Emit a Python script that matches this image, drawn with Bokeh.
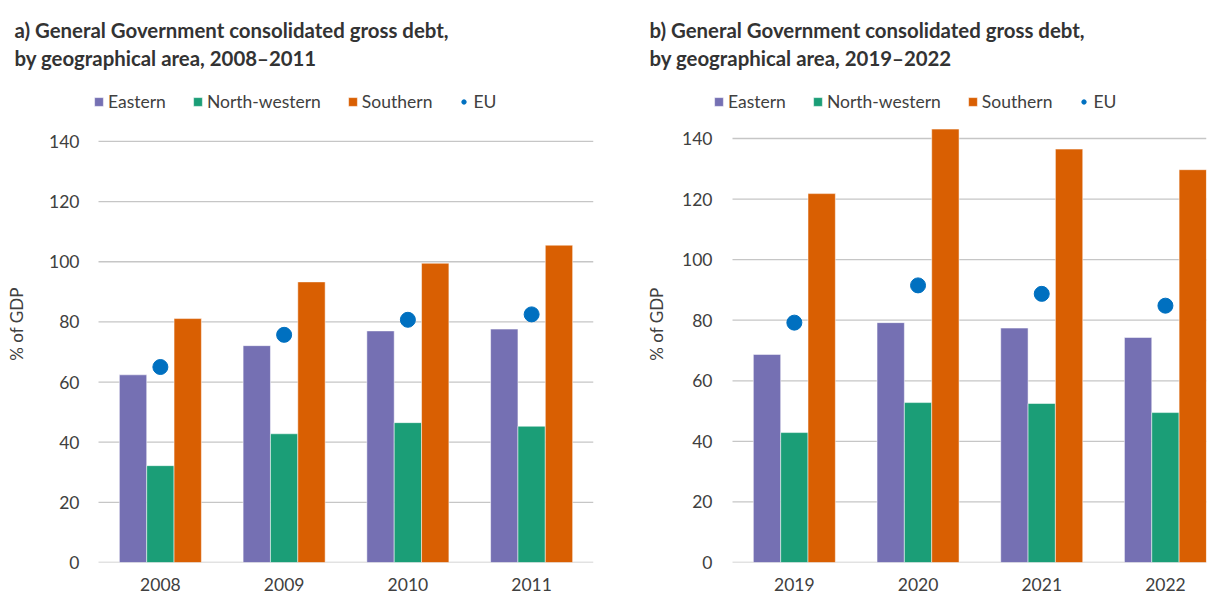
from bokeh.plotting import figure
from bokeh.models import Range1d, FixedTicker, Legend, LegendItem, Title
from bokeh.layouts import row
from bokeh.transform import dodge
from bokeh.embed import file_html
from bokeh.resources import INLINE
from bokeh.models import ColumnDataSource

# ---- data ----
years_a = ["2008", "2009", "2010", "2011"]
eastern_a = [62.4, 72.1, 77.0, 77.6]
northwest_a = [32.2, 42.8, 46.5, 45.3]
southern_a = [81.1, 93.3, 99.5, 105.5]
eu_a = [65.0, 75.7, 80.7, 82.5]

years_b = ["2019", "2020", "2021", "2022"]
eastern_b = [68.7, 79.2, 77.4, 74.3]
northwest_b = [42.9, 52.8, 52.5, 49.5]
southern_b = [121.8, 143.1, 136.5, 129.7]
eu_b = [79.2, 91.5, 88.7, 84.8]

series_names = ["Eastern", "North-western", "Southern", "EU"]
y_ticks = [0, 20, 40, 60, 80, 100, 120, 140]
title_a = "a) General Government consolidated gross debt,\nby geographical area, 2008\u20132011"
title_b = "b) General Government consolidated gross debt,\nby geographical area, 2019\u20132022"

C_EAST = "#7570B3"
C_NW = "#1B9E77"
C_SOUTH = "#D95F02"
C_EU = "#0070C0"
FONT = "Lato"
TXT = "#404040"

H = 597
TOP = 85
BOTTOM = 35
EXT = 22  # extra frame room on the left so the legend is not clipped
PX_PER_CAT = 123.7


def make_panel(title, years, east, nw, south, eu, width, bl, br, x_end, ymax,
               title_off, leg_x, tick_standoff, lab_standoff):
    src = ColumnDataSource(dict(x=list(range(len(years))), east=east, nw=nw, south=south, eu=eu))
    x_start = -0.5 - EXT / PX_PER_CAT
    p = figure(width=width, height=H, x_range=Range1d(x_start, x_end), y_range=Range1d(0, ymax),
               output_backend="svg", toolbar_location=None,
               min_border_left=bl - EXT, min_border_right=br, min_border_bottom=BOTTOM,
               min_border_top=TOP)
    p.outline_line_color = None
    p.xgrid.grid_line_color = None
    p.ygrid.grid_line_color = None

    # horizontal gridlines spanning the category area only
    gsrc = ColumnDataSource(dict(y=y_ticks, x0=[-0.5] * len(y_ticks), x1=[x_end] * len(y_ticks)))
    p.segment(x0="x0", x1="x1", y0="y", y1="y", source=gsrc, line_color="#c6c6c6", line_width=1.3)

    bw = 0.221
    r1 = p.vbar(x=dodge("x", -bw, range=p.x_range), top="east", width=bw, source=src,
                fill_color=C_EAST, line_color="#ffffff", line_alpha=0.5, line_width=1)
    r2 = p.vbar(x="x", top="nw", width=bw, source=src,
                fill_color=C_NW, line_color="#ffffff", line_alpha=0.5, line_width=1)
    r3 = p.vbar(x=dodge("x", bw, range=p.x_range), top="south", width=bw, source=src,
                fill_color=C_SOUTH, line_color="#ffffff", line_alpha=0.5, line_width=1)
    r4 = p.scatter(x="x", y="eu", size=15, source=src, fill_color=C_EU, line_color=C_EU)

    p.xaxis.ticker = FixedTicker(ticks=list(range(len(years))))
    p.xaxis.major_label_overrides = {i: y for i, y in enumerate(years)}
    p.yaxis.ticker = FixedTicker(ticks=y_ticks)
    for ax in (p.xaxis[0], p.yaxis[0]):
        ax.axis_line_color = None
        ax.major_tick_line_color = None
        ax.minor_tick_line_color = None
        ax.major_tick_out = 0
        ax.major_tick_in = 0
        ax.major_label_text_font = FONT
        ax.major_label_text_font_size = "17.5px"
        ax.major_label_text_color = TXT
    p.xaxis.major_label_standoff = 15
    p.yaxis.major_label_standoff = tick_standoff - EXT
    p.yaxis.axis_label = "% of GDP"
    p.yaxis.axis_label_text_font = FONT
    p.yaxis.axis_label_text_font_size = "17px"
    p.yaxis.axis_label_text_font_style = "normal"
    p.yaxis.axis_label_text_color = TXT
    p.yaxis.axis_label_standoff = lab_standoff

    frame_h = H - TOP - BOTTOM
    legend = Legend(items=[LegendItem(label=series_names[0], renderers=[r1]),
                           LegendItem(label=series_names[1], renderers=[r2]),
                           LegendItem(label=series_names[2], renderers=[r3]),
                           LegendItem(label=series_names[3], renderers=[r4])],
                    orientation="horizontal", location=(leg_x + EXT, frame_h - 27),
                    glyph_width=11, glyph_height=11, label_standoff=4, spacing=26,
                    padding=0, margin=0, border_line_color=None, background_fill_alpha=0,
                    label_text_font=FONT, label_text_font_size="17.5px", label_text_color=TXT,
                    label_height=20)
    p.add_layout(legend, "center")
    p.add_layout(Title(text=title, align="left", offset=title_off + EXT, text_font=FONT,
                       text_font_size="20.4px", text_font_style="bold", text_color="#333333",
                       text_line_height=1.18, standoff=31), "above")
    return p


p1 = make_panel(title_a, years_a, eastern_a, northwest_a, southern_a, eu_a,
                620, 98, 27, 3.5, 158.6, -84, -5, 19, 19)
p2 = make_panel(title_b, years_b, eastern_b, northwest_b, southern_b, eu_b,
                594, 112, 8, 3.332, 157.5, -83, -19, 20, 12)

layout = row(p1, p2)
open("out.html", "w").write(file_html(layout, INLINE))
